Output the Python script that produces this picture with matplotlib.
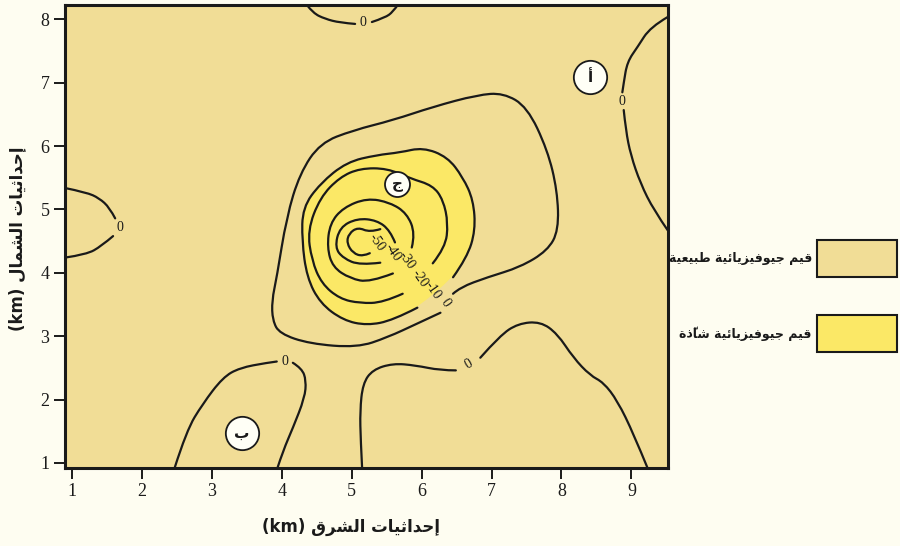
import matplotlib
matplotlib.use("Agg")
import matplotlib.pyplot as plt
from matplotlib.patches import Rectangle, PathPatch
from matplotlib.path import Path

# ---------------- data (km) ----------------
x_ticks = [1, 2, 3, 4, 5, 6, 7, 8, 9]
y_ticks = [1, 2, 3, 4, 5, 6, 7, 8]

# closed 0 contour around the anomaly (gap at its label)
zero_loop_x = [6.27, 5.94, 5.51, 5.08, 4.40, 3.97, 3.87, 3.86, 3.93, 4.07, 4.26, 4.55, 5.02,
               5.59, 6.16, 6.80, 7.17, 7.51, 7.80, 7.94, 7.96, 7.80, 7.41, 6.94, 6.55, 6.45]
zero_loop_y = [3.37, 3.20, 2.98, 2.82, 2.88, 3.04, 3.25, 3.56, 3.93, 4.88, 5.57, 6.05, 6.25,
               6.41, 6.62, 6.81, 6.84, 6.62, 5.94, 5.30, 4.67, 4.35, 4.09, 3.93, 3.77, 3.67]

m10_x = [5.94, 5.59, 5.22, 4.88, 4.55, 4.36, 4.29, 4.30, 4.55, 4.93, 5.36, 5.69, 6.02,
         6.37, 6.59, 6.74, 6.77, 6.65, 6.45]
m10_y = [3.45, 3.25, 3.17, 3.25, 3.52, 3.93, 4.51, 5.03, 5.41, 5.75, 5.86, 5.90, 5.98,
         5.83, 5.51, 5.15, 4.67, 4.24, 3.93]

m20_x = [5.73, 5.45, 5.12, 4.83, 4.57, 4.43, 4.37, 4.55, 4.83, 5.12, 5.51, 5.84, 6.16,
         6.31, 6.38, 6.34, 6.16]
m20_y = [3.67, 3.53, 3.52, 3.59, 3.83, 4.20, 4.67, 5.19, 5.51, 5.65, 5.65, 5.49, 5.38,
         5.15, 4.78, 4.40, 4.15]

m30_x = [5.59, 5.26, 4.98, 4.73, 4.65, 4.69, 4.88, 5.22, 5.55, 5.79, 5.91, 5.86]
m30_y = [3.99, 3.85, 3.91, 4.09, 4.40, 4.78, 5.03, 5.18, 5.11, 4.94, 4.62, 4.40]

m40_x = [5.41, 5.12, 4.88, 4.76, 4.83, 5.08, 5.36, 5.55, 5.62]
m40_y = [4.16, 4.12, 4.23, 4.40, 4.72, 4.86, 4.83, 4.67, 4.48]

m50_x = [5.41, 5.26, 5.09, 4.96, 4.93, 5.02, 5.16, 5.26]
m50_y = [4.69, 4.64, 4.72, 4.62, 4.47, 4.31, 4.26, 4.31]

# other 0 contours, each split in two at its label
top_a_x, top_a_y = [4.36, 4.45, 4.62, 4.83, 5.05], [8.23, 8.10, 8.01, 7.95, 7.93]
top_b_x, top_b_y = [5.29, 5.48, 5.59, 5.66], [7.96, 8.03, 8.12, 8.23]

right_a_x, right_a_y = [9.52, 9.27, 9.09, 8.94, 8.89, 8.87], [8.04, 7.88, 7.57, 7.33, 7.00, 6.85]
right_b_x = [8.89, 8.92, 8.99, 9.13, 9.32, 9.52]
right_b_y = [6.57, 6.25, 5.86, 5.41, 4.99, 4.67]

left_a_x, left_a_y = [0.90, 1.21, 1.39, 1.54, 1.62], [5.34, 5.27, 5.18, 5.03, 4.86]
left_b_x, left_b_y = [1.59, 1.42, 1.21, 0.90], [4.58, 4.42, 4.29, 4.24]

bl_a_x = [2.47, 2.64, 2.87, 3.16, 3.40, 3.79, 3.93]
bl_a_y = [0.92, 1.51, 1.93, 2.35, 2.50, 2.58, 2.60]
bl_b_x = [4.16, 4.29, 4.35, 4.33, 4.16, 4.02, 3.94]
bl_b_y = [2.58, 2.49, 2.30, 2.03, 1.55, 1.19, 0.92]

br_a_x = [5.15, 5.13, 5.12, 5.16, 5.30, 5.59, 5.91, 6.27, 6.49]
br_a_y = [0.92, 1.35, 1.82, 2.25, 2.47, 2.57, 2.54, 2.46, 2.46]
br_b_x = [6.84, 7.12, 7.38, 7.70, 7.94, 8.17, 8.41, 8.60, 8.80, 9.03, 9.23]
br_b_y = [2.66, 3.01, 3.20, 3.23, 3.04, 2.66, 2.38, 2.27, 1.98, 1.46, 0.92]

# contour labels: text, x, y, rotation
label_text = ["0", "-10", "-20", "-30", "-40", "-50", "0", "0", "0", "0", "0"]
label_x = [6.34, 6.16, 5.98, 5.79, 5.58, 5.36, 5.16, 8.87, 1.69, 4.04, 6.67]
label_y = [3.52, 3.72, 3.91, 4.20, 4.32, 4.48, 7.95, 6.71, 4.72, 2.60, 2.55]
label_rot = [-55, -55, -55, -55, -55, -55, 0, 0, 0, 0, 30]

# circled point names
point_names = ["أ", "ب", "ج"]
point_x = [8.41, 3.43, 5.65]
point_y = [7.09, 1.47, 5.41]
point_size = [24, 24, 18]

x_label = "إحداثيات الشرق"
y_label = "إحداثيات الشمال"
legend_names = ["قيم جيوفيزيائية طبيعية", "قيم جيوفيزيائية شاذّة"]

TAN = "#F1DD96"
YELLOW = "#FBE866"
BG = "#FEFDF1"
INK = "#1a1a1a"

# ---------------- arabic shaping (matplotlib has none) ----------------
DUAL = {'ب': 0xFE8F, 'ت': 0xFE95, 'ث': 0xFE99, 'ج': 0xFE9D, 'ح': 0xFEA1,
        'ش': 0xFEB5, 'ط': 0xFEC1, 'ع': 0xFEC9, 'ف': 0xFED1, 'ق': 0xFED5,
        'ل': 0xFEDD, 'م': 0xFEE1, 'ي': 0xFEF1, 'ئ': 0xFE89}
RIGHT = {'ا': 0xFE8D, 'أ': 0xFE83, 'إ': 0xFE87, 'ة': 0xFE93, 'د': 0xFEA9,
         'ذ': 0xFEAB, 'ر': 0xFEAD, 'ز': 0xFEAF, 'و': 0xFEED}
MARKS = {'\u0651'}


def shape(text):
    """Join arabic letters and put them in visual (left to right) order"""
    def neighbour(i, step):
        j = i + step
        while 0 <= j < len(text) and text[j] in MARKS:
            j += step
        return text[j] if 0 <= j < len(text) else None

    out = []
    for i, c in enumerate(text):
        if c in DUAL or c in RIGHT:
            p, n = neighbour(i, -1), neighbour(i, 1)
            jp = p in DUAL
            jn = c in DUAL and (n in DUAL or n in RIGHT)
            base = DUAL.get(c, RIGHT.get(c))
            off = 3 if (jp and jn) else 1 if jp else 2 if jn else 0
            out.append(chr(base + off))
        else:
            out.append(c)
    clusters = []
    for c in out:
        if c in MARKS and clusters:
            clusters[-1] += c
        else:
            clusters.append(c)
    return ''.join(reversed(clusters))


def smooth(xs, ys, closed=False):
    pts = list(zip(xs, ys))
    if closed:
        pts = pts + pts[:2]
        start = ((pts[0][0] + pts[1][0]) / 2, (pts[0][1] + pts[1][1]) / 2)
        verts, codes = [start], [Path.MOVETO]
        for i in range(1, len(pts) - 1):
            mid = ((pts[i][0] + pts[i + 1][0]) / 2, (pts[i][1] + pts[i + 1][1]) / 2)
            verts += [pts[i], mid]
            codes += [Path.CURVE3, Path.CURVE3]
        return Path(verts, codes)
    verts, codes = [pts[0]], [Path.MOVETO]
    for i in range(1, len(pts) - 1):
        if i == len(pts) - 2:
            end = pts[-1]
        else:
            end = ((pts[i][0] + pts[i + 1][0]) / 2, (pts[i][1] + pts[i + 1][1]) / 2)
        verts += [pts[i], end]
        codes += [Path.CURVE3, Path.CURVE3]
    if len(pts) == 2:
        verts.append(pts[1])
        codes.append(Path.LINETO)
    return Path(verts, codes)


# ---------------- figure ----------------
fig = plt.figure(figsize=(9, 5.46), dpi=100, facecolor=BG)
ax = fig.add_axes([0.072, 0.143, 0.670, 0.848])
ax.set_facecolor(TAN)

ax.add_patch(PathPatch(smooth(m10_x, m10_y, closed=True), facecolor=YELLOW,
                       edgecolor="none", zorder=1))

lines = [(zero_loop_x, zero_loop_y), (m10_x, m10_y), (m20_x, m20_y), (m30_x, m30_y),
         (m40_x, m40_y), (m50_x, m50_y), (top_a_x, top_a_y), (top_b_x, top_b_y),
         (right_a_x, right_a_y), (right_b_x, right_b_y), (left_a_x, left_a_y),
         (left_b_x, left_b_y), (bl_a_x, bl_a_y), (bl_b_x, bl_b_y),
         (br_a_x, br_a_y), (br_b_x, br_b_y)]
for xs, ys in lines:
    ax.add_patch(PathPatch(smooth(xs, ys), facecolor="none", edgecolor=INK, lw=1.6,
                           capstyle="round", joinstyle="round", zorder=2))

for t, x, y, r in zip(label_text, label_x, label_y, label_rot):
    ax.text(x, y, t, rotation=r, ha="center", va="center", fontsize=10,
            family="Liberation Serif", color=INK, zorder=3)

for name, x, y, s in zip(point_names, point_x, point_y, point_size):
    ax.plot(x, y, "o", ms=s, mfc="#FFFFF6", mec=INK, mew=1.3, zorder=4)
    ax.text(x, y, name, ha="center", va="center", fontsize=11, fontweight="bold",
            family="DejaVu Sans", color=INK, zorder=5)

ax.set_xlim(0.9, 9.52)
ax.set_ylim(0.92, 8.23)
ax.set_xticks(x_ticks)
ax.set_yticks(y_ticks)
ax.tick_params(direction="out", length=8, width=1.4, pad=3, labelsize=13,
               colors=INK)
for lab in ax.get_xticklabels() + ax.get_yticklabels():
    lab.set_family("Liberation Serif")
for side in ["left", "bottom", "top", "right"]:
    ax.spines[side].set_linewidth(2.2)
    ax.spines[side].set_color(INK)

fig.text(0.39, 0.035, "(km) " + shape(x_label), ha="center", va="center",
         fontsize=12, fontweight="bold", family="DejaVu Sans", color=INK)
fig.text(0.019, 0.562, "(km) " + shape(y_label), ha="center", va="center",
         rotation=90, fontsize=12, fontweight="bold", family="DejaVu Sans", color=INK)

# legend boxes on the right
box_colors = [TAN, YELLOW]
box_bottom = [0.493, 0.355]
for name, col, b in zip(legend_names, box_colors, box_bottom):
    fig.patches.append(Rectangle((0.908, b), 0.089, 0.068, transform=fig.transFigure,
                                 facecolor=col, edgecolor=INK, lw=1.5))
    fig.text(0.902, b + 0.034, shape(name), ha="right", va="center", fontsize=9,
             fontweight="bold", family="DejaVu Sans", color=INK)

fig.savefig("out.png", dpi=100, facecolor=BG)
